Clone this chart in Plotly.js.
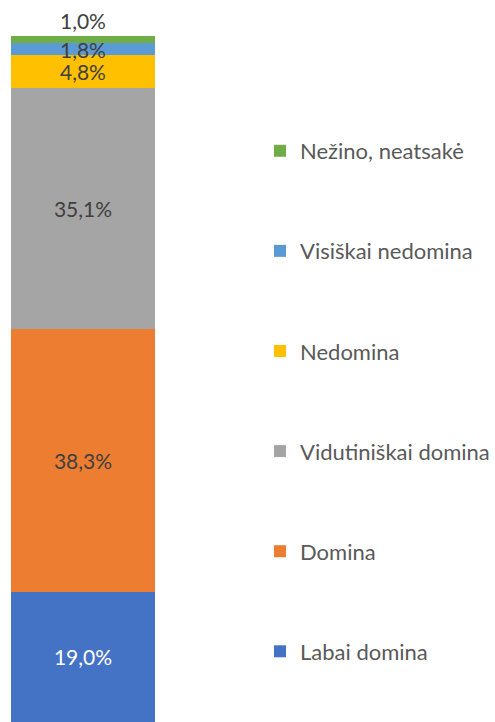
<!DOCTYPE html>
<html>
<head>
<meta charset="utf-8">
<script src="https://cdn.plot.ly/plotly-3.0.1.min.js"></script>
<style>html,body{margin:0;padding:0;background:#fff;}#chart{width:495px;height:722px;}</style>
</head>
<body>
<div id="chart"></div>
<script>
const categories = [''];
const seriesNames = ['Labai domina', 'Domina', 'Vidutiniškai domina', 'Nedomina', 'Visiškai nedomina', 'Nežino, neatsakė'];
const seriesValues = [19.0, 38.3, 35.1, 4.8, 1.8, 1.0];
const seriesColors = ['#4472C4', '#ED7D31', '#A5A5A5', '#FFC000', '#5B9BD5', '#70AD47'];
const labelColors = ['#FFFFFF', '#404040', '#404040', '#404040', '#404040', '#404040'];

const FONT = 'Lato, "Open Sans", sans-serif';
const n = seriesNames.length;
const traces = seriesNames.map((name, i) => ({
  type: 'bar',
  name: name,
  x: categories,
  y: [seriesValues[i]],
  marker: {color: seriesColors[i], line: {width: 0}},
  text: [seriesValues[i].toFixed(1).replace('.', ',') + '%'],
  texttemplate: '%{text}',
  textposition: i === n - 1 ? 'outside' : 'inside',
  insidetextanchor: 'middle',
  constraintext: 'none',
  cliponaxis: false,
  textfont: {family: FONT, size: 21, color: labelColors[i]},
  legendgroup: 'g' + i,
  legendrank: 1000 + (n - i),
  hoverinfo: 'skip'
}));

const layout = {
  width: 495,
  height: 722,
  margin: {l: 0, r: 0, t: 36, b: 0},
  paper_bgcolor: '#ffffff',
  plot_bgcolor: '#ffffff',
  barmode: 'stack',
  bargap: 0,
  showlegend: true,
  xaxis: {domain: [11/495, 157/495], range: [-0.5, 0.5], visible: false, fixedrange: true},
  yaxis: {range: [0, 100], visible: false, fixedrange: true},
  legend: {
    x: 0.532, y: 0.863, xanchor: 'left', yanchor: 'top',
    traceorder: 'grouped',
    tracegroupgap: 68.5,
    font: {family: FONT, size: 22, color: '#595959'},
    bgcolor: 'rgba(0,0,0,0)'
  },
  font: {family: FONT}
};

Plotly.newPlot('chart', traces, layout, {displayModeBar: false, staticPlot: true});
</script>
</body>
</html>
